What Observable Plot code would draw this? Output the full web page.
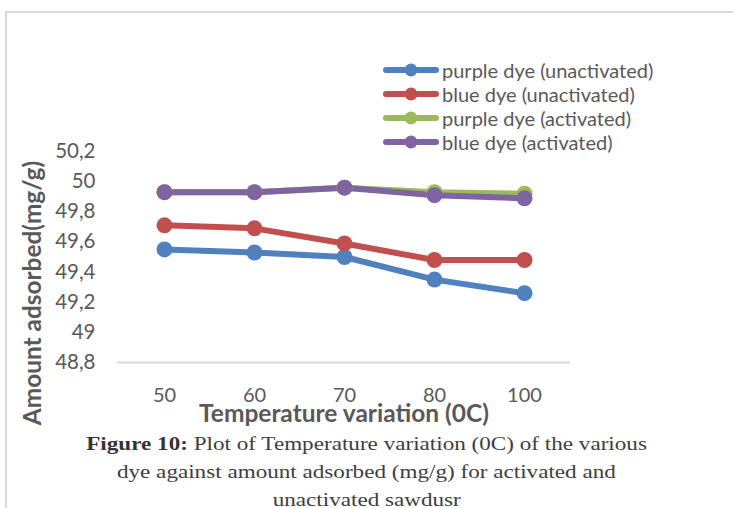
<!DOCTYPE html>
<html>
<head>
<meta charset="utf-8">
<script src="https://cdn.jsdelivr.net/npm/d3@7"></script>
<script src="https://cdn.jsdelivr.net/npm/@observablehq/plot@0.6"></script>
<style>
  body { margin: 0; background: #fff; }
  #wrap { position: relative; width: 733px; height: 508px; overflow: hidden; font-family: Lato, "Open Sans", sans-serif; }
  #frame { position: absolute; left: 5px; top: 11px; width: 800px; height: 600px; border: 2px solid #d9d9d9; box-sizing: border-box; }
  #chart { position: absolute; left: 0; top: 0; }
  #ytitle { position: absolute; left: 32px; top: 293px; white-space: nowrap; font-weight: bold; font-size: 24.4px; line-height: 1; color: #595959; transform: translate(-50%, -50%) rotate(-90deg); }
  #legend { position: absolute; left: 383px; top: 58px; color: #595959; font-size: 20px; }
  #legend .row { height: 24px; display: flex; align-items: center; white-space: nowrap; }
  #legend svg { margin-right: 3px; }
  #caption { position: absolute; left: 0; width: 733px; top: 430px; text-align: center; font-family: "Liberation Serif", serif; font-size: 19.6px; line-height: 28px; color: #3e3e3e; }
  #caption div { display: inline-block; transform: scaleX(1.18); }
</style>
</head>
<body>
<div id="wrap">
  <div id="frame"></div>
  <div id="chart"></div>
  <div id="ytitle"></div>
  <div id="legend"></div>
  <div id="caption"></div>
</div>
<script>
// Temperature categories (°C) and amount adsorbed (mg/g) per series
const temperatures = ["50", "60", "70", "80", "100"];
const purpleUnactivated = [49.55, 49.53, 49.50, 49.35, 49.26];
const blueUnactivated   = [49.71, 49.69, 49.59, 49.48, 49.48];
const purpleActivated   = [49.93, 49.93, 49.96, 49.93, 49.92];
const blueActivated     = [49.93, 49.93, 49.96, 49.91, 49.89];
const seriesNames = ["purple dye (unactivated)", "blue dye (unactivated)", "purple dye (activated)", "blue dye (activated)"];
const seriesColors = ["#4f81bd", "#c0504d", "#9bbb59", "#8064a2"];
const yTicks = [48.8, 49, 49.2, 49.4, 49.6, 49.8, 50, 50.2];
const xTitle = "Temperature variation (0C)";
const yTitle = "Amount adsorbed(mg/g)";
const captionLabel = "Figure 10:";
const captionLines = [
  " Plot of Temperature variation (0C) of the various",
  "dye against amount adsorbed (mg/g) for activated and",
  "unactivated sawdusr"
];

const seriesValues = [purpleUnactivated, blueUnactivated, purpleActivated, blueActivated];
const rows = seriesNames.flatMap((name, s) =>
  temperatures.map((t, i) => ({series: name, t, v: seriesValues[s][i]}))
);

// Decimal comma, no trailing zeros (49 rather than 49,0)
const fmt = d => String(+d.toFixed(1)).replace(".", ",");

const chart = Plot.plot({
  width: 733,
  height: 430,
  marginLeft: 117,
  marginRight: 163,
  marginTop: 151,
  marginBottom: 68,
  style: {fontFamily: "Lato, sans-serif", color: "#595959", background: "transparent", overflow: "visible"},
  x: {type: "point", domain: temperatures, padding: 0.5, label: null},
  y: {domain: [48.8, 50.2], label: null},
  color: {domain: seriesNames, range: seriesColors},
  marks: [
    Plot.ruleY([48.8], {stroke: "#d9d9d9", strokeWidth: 2}),
    Plot.axisX({tickSize: 0, tickPadding: 25, fontSize: 20, label: null}),
    Plot.axisY(yTicks, {tickSize: 0, tickPadding: 22, fontSize: 20.5, tickFormat: fmt, label: null}),
    Plot.text([xTitle], {frameAnchor: "bottom", dy: 52, lineAnchor: "middle", fontSize: 24.5, fontWeight: "bold", fill: "#595959"}),
    Plot.lineY(rows, {x: "t", y: "v", z: "series", stroke: "series", strokeWidth: 6, strokeLinejoin: "round", strokeLinecap: "round"}),
    Plot.dot(rows, {x: "t", y: "v", fill: "series", r: 8})
  ]
});
document.getElementById("chart").appendChild(chart);

d3.select("#ytitle").text(yTitle);

// Legend rows: line swatch with marker, then the series name
const legend = d3.select("#legend");
seriesNames.forEach((name, i) => {
  const row = legend.append("div").attr("class", "row");
  const sw = row.append("svg").attr("width", 56).attr("height", 14);
  sw.append("line").attr("x1", 3).attr("x2", 53).attr("y1", 7).attr("y2", 7)
    .attr("stroke", seriesColors[i]).attr("stroke-width", 6).attr("stroke-linecap", "round");
  sw.append("circle").attr("cx", 28).attr("cy", 7).attr("r", 6.5).attr("fill", seriesColors[i]);
  row.append("span").text(name);
});

// Figure caption, three centred lines
const cap = d3.select("#caption");
captionLines.forEach((line, i) => {
  const div = cap.append("div");
  if (i === 0) div.append("b").style("color", "#333").text(captionLabel);
  div.append("span").text(line);
  cap.append("br");
});
</script>
</body>
</html>
